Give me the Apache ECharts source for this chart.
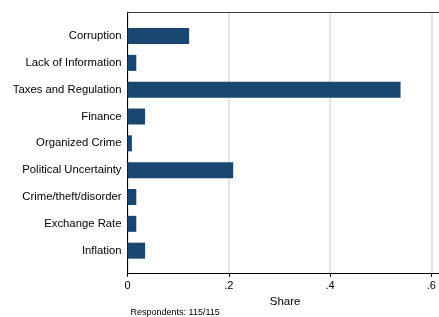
<!DOCTYPE html>
<html>
<head>
<meta charset="utf-8">
<script src="https://cdn.jsdelivr.net/npm/echarts@6/dist/echarts.min.js"></script>
<style>
  html, body { margin: 0; padding: 0; background: #fff; }
  #chart { width: 439px; height: 317px; }
</style>
</head>
<body>
<div id="chart"></div>
<script>
// obstacles reported by respondents (115 total)
var categories = ['Corruption', 'Lack of Information', 'Taxes and Regulation', 'Finance',
  'Organized Crime', 'Political Uncertainty', 'Crime/theft/disorder', 'Exchange Rate', 'Inflation']
var shares = [0.1217, 0.0174, 0.5391, 0.0348, 0.0087, 0.2087, 0.0174, 0.0174, 0.0348]
var xTicks = [0, 0.2, 0.4, 0.6]
var note = 'Respondents: 115/115'

var font = 'Liberation Sans, Arial, Helvetica, sans-serif'
var xMax = 0.63

function tickLabel(v) {
  for (var i = 0; i < xTicks.length; i++) {
    if (Math.abs(v - xTicks[i]) < 1e-6) {
      return v === 0 ? '0' : String(v).replace(/^0/, '')
    }
  }
  return ''
}

var chart = echarts.init(document.getElementById('chart'), null, { renderer: 'canvas' })

var option = {
  animation: false,
  backgroundColor: '#fff',
  textStyle: { fontFamily: font },
  grid: [
    // frame: axes, gridlines (runs past the right edge like the original)
    { left: 127.5, width: 319.1, top: 12.3, bottom: 43.7, outerBoundsMode: 'none' },
    // bars
    { left: 127.5, width: 319.1, top: 22.6, bottom: 52.9, outerBoundsMode: 'none' }
  ],
  xAxis: [
    {
      gridIndex: 0, type: 'value', min: 0, max: xMax, interval: 0.2,
      axisLine: { show: true, lineStyle: { color: '#000', width: 1 } },
      axisTick: { show: true, length: 3.5, lineStyle: { color: '#000' } },
      axisLabel: { color: '#000', fontSize: 11, margin: 7, formatter: tickLabel, showMaxLabel: false },
      splitLine: { show: true, lineStyle: { color: '#dcdcdc', width: 1.5 } },
      name: 'Share', nameLocation: 'middle', nameGap: 18,
      nameTextStyle: { color: '#000', fontSize: 11.5, padding: [0, 4, 0, 0] }
    },
    {
      gridIndex: 0, type: 'value', position: 'top', min: 0, max: xMax,
      axisLine: { show: true, lineStyle: { color: '#3a3a3a', width: 1 } },
      axisTick: { show: false }, axisLabel: { show: false }, splitLine: { show: false }
    },
    {
      gridIndex: 1, type: 'value', min: 0, max: xMax, show: false
    }
  ],
  yAxis: [
    {
      gridIndex: 0, type: 'value', min: 0, max: 1,
      axisLine: { show: true, lineStyle: { color: '#000', width: 1 } },
      axisTick: { show: false }, axisLabel: { show: false }, splitLine: { show: false }
    },
    {
      gridIndex: 1, type: 'category', data: categories, inverse: true,
      axisLine: { show: false }, axisTick: { show: false },
      axisLabel: { color: '#000', fontSize: 11.3, margin: 6 },
      splitLine: { show: false }
    }
  ],
  series: [
    {
      name: 'Share',
      type: 'bar',
      xAxisIndex: 2,
      yAxisIndex: 1,
      data: shares,
      barWidth: 16,
      itemStyle: { color: '#1a476f' }
    }
  ],
  graphic: [
    {
      type: 'text', left: 130.5, bottom: 0,
      style: { text: note, fill: '#000', font: '9px ' + font }
    }
  ]
}

chart.setOption(option)
</script>
</body>
</html>
